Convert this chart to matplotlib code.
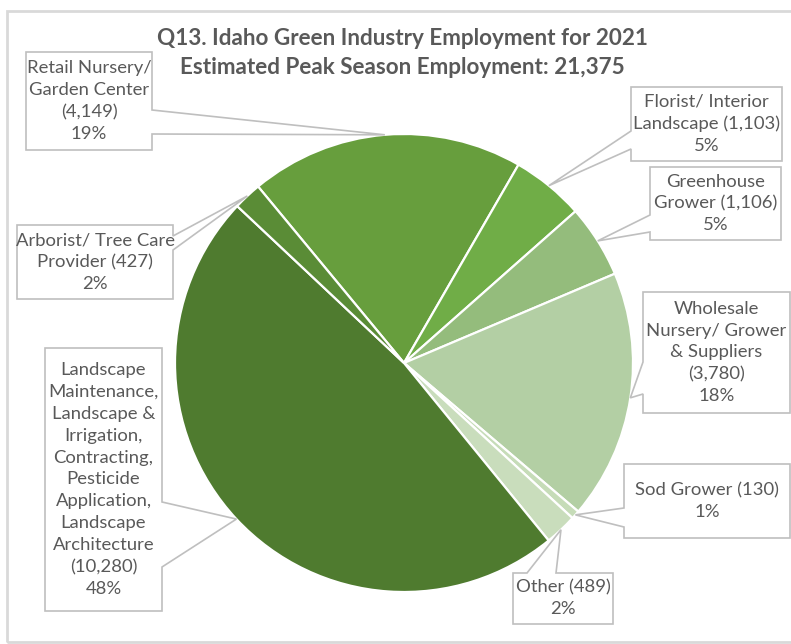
import numpy as np
import matplotlib.pyplot as plt
from matplotlib.patches import Polygon, Rectangle

plt.rcParams["font.family"] = ["Lato", "DejaVu Sans"]

# employment by segment, clockwise from the top
segments = [
    "Retail Nursery/\nGarden Center",
    "Florist/ Interior\nLandscape",
    "Greenhouse\nGrower",
    "Wholesale\nNursery/ Grower\n& Suppliers",
    "Sod Grower",
    "Other",
    "Landscape\nMaintenance,\nLandscape &\nIrrigation,\nContracting,\nPesticide\nApplication,\nLandscape\nArchitecture",
    "Arborist/ Tree Care\nProvider",
]
employment = [4149, 1103, 1106, 3780, 130, 489, 10280, 427]
percent_labels = ["19%", "5%", "5%", "18%", "1%", "2%", "48%", "2%"]
value_sep = ["\n", " ", " ", "\n", " ", " ", "\n", " "]
colors = ["#679E3D", "#70AD47", "#94BC7C", "#B3CFA4", "#C6DCB8", "#C9DDBC", "#4F7B2F", "#5A8C36"]

title = "Q13. Idaho Green Industry Employment for 2021\nEstimated Peak Season Employment: 21,375"

W, H = 791, 644
CX, CY, R = 404, 363, 229

# label boxes: (left, top, right, bottom), side the pointer leaves from, pointer base span
boxes = [
    ((26, 52, 152, 150), "right", (110, 134)),
    ((631, 87, 782, 161), "left", (131, 149)),
    ((650, 167, 781, 240), "left", (215, 232)),
    ((643, 292, 790, 413), "left", (362, 394)),
    ((624, 464, 790, 538), "left", (508, 527)),
    ((513, 573, 613, 624), "top", (527, 556)),
    ((45, 348, 162, 611), "right", (502, 567)),
    ((17, 225, 173, 299), "right", (236, 250)),
]

TEXT = "#595959"
EDGE = "#BFBFBF"


def fy(y):
    return H - y


def callout(ax, box, side, base, tip):
    x0, y0, x1, y1 = box
    a, b = base
    if side == "right":
        pts = [(x0, y0), (x1, y0), (x1, a), tip, (x1, b), (x1, y1), (x0, y1)]
    elif side == "left":
        pts = [(x0, y0), (x1, y0), (x1, y1), (x0, y1), (x0, b), tip, (x0, a)]
    else:
        pts = [(x0, y0), (a, y0), tip, (b, y0), (x1, y0), (x1, y1), (x0, y1)]
    pts = [(x, fy(y)) for x, y in pts]
    ax.add_patch(Polygon(pts, closed=True, facecolor="white", edgecolor=EDGE, linewidth=1.2, zorder=3))


fig = plt.figure(figsize=(W / 100, H / 100), dpi=100)
ax = fig.add_axes([0, 0, 1, 1])

# chart area border
ax.add_patch(Rectangle((7, fy(642)), 800, 631, facecolor="none", edgecolor="#D9D9D9", linewidth=2))

frac = np.array(employment) / sum(employment)
start = 60 + 360 * frac[0]
wedges, _ = ax.pie(
    employment,
    colors=colors,
    startangle=start,
    counterclock=False,
    center=(CX, fy(CY)),
    radius=R,
    wedgeprops=dict(edgecolor="white", linewidth=1.6),
    frame=True,
)
ax.set_xlim(0, W)
ax.set_ylim(0, H)
ax.set_aspect("equal")
ax.axis("off")

for w, name, val, pct, sep, (box, side, base) in zip(
    wedges, segments, employment, percent_labels, value_sep, boxes
):
    mid = np.deg2rad((w.theta1 + w.theta2) / 2)
    tip = (CX + R * np.cos(mid), CY - R * np.sin(mid))
    callout(ax, box, side, base, tip)
    label = f"{name}{sep}({val:,})\n{pct}"
    x0, y0, x1, y1 = box
    ax.text((x0 + x1) / 2, fy((y0 + y1) / 2), label, ha="center", va="center",
            fontsize=13.3, color=TEXT, linespacing=1.45, zorder=4)

ax.text(402, fy(53), title, ha="center", va="center", fontsize=16.2, fontweight="bold",
        color=TEXT, linespacing=1.45)

fig.savefig("out.png", dpi=100)
